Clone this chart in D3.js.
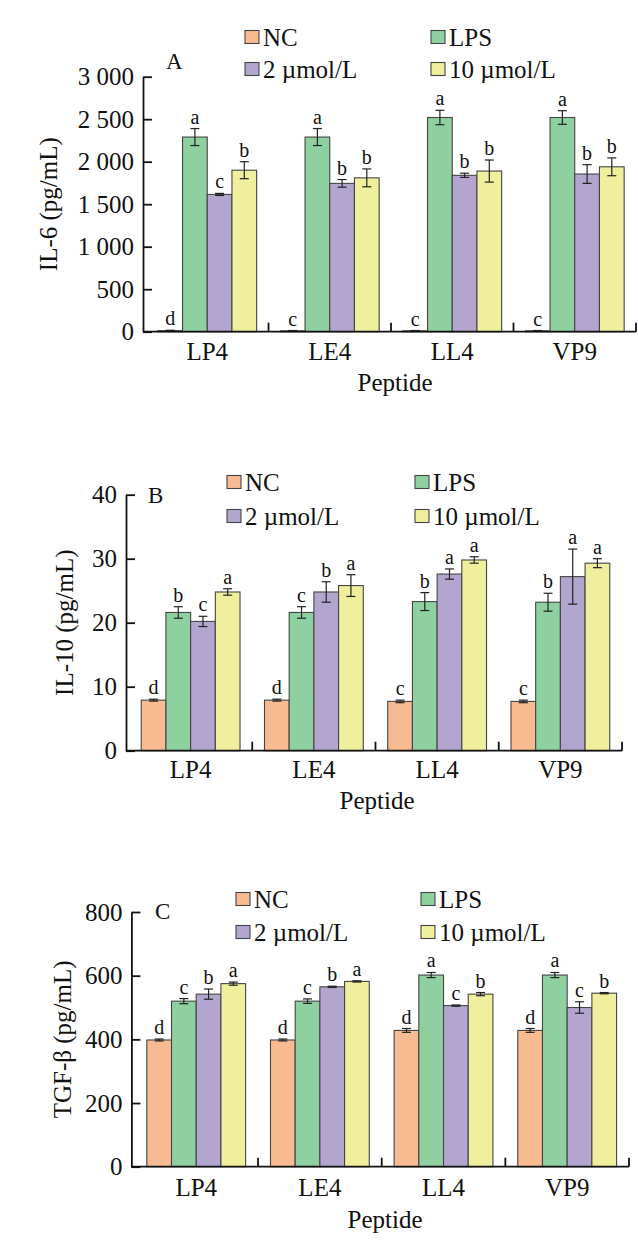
<!DOCTYPE html>
<html><head><meta charset="utf-8">
<script src="https://cdn.jsdelivr.net/npm/d3@7"></script>
<style>body{margin:0;background:#fff}</style>
</head><body>
<svg id="chart" width="638" height="1242" xmlns="http://www.w3.org/2000/svg"></svg>
<script>
// ---------- data ----------
const categories = ["LP4", "LE4", "LL4", "VP9"];
const seriesNames = ["NC", "LPS", "2 µmol/L", "10 µmol/L"];
const seriesColors = ["#F8BA91", "#8FD0A0", "#B2A6CF", "#EFEF9E"];

// Panel A: IL-6
const il6NC = [12, 10, 10, 10];
const il6LPS = [2290, 2290, 2520, 2520];
const il6Low = [1615, 1745, 1840, 1855];
const il6High = [1900, 1810, 1890, 1940];
const il6NCErr = [5, 4, 4, 4];
const il6LPSErr = [100, 100, 85, 80];
const il6LowErr = [12, 45, 25, 110];
const il6HighErr = [100, 105, 130, 105];
const il6NCSig = ["d", "c", "c", "c"];
const il6LPSSig = ["a", "a", "a", "a"];
const il6LowSig = ["c", "b", "b", "b"];
const il6HighSig = ["b", "b", "b", "b"];
const il6Ticks = [0, 500, 1000, 1500, 2000, 2500, 3000];
const il6TickLabels = ["0", "500", "1 000", "1 500", "2 000", "2 500", "3 000"];

// Panel B: IL-10
const il10NC = [7.9, 7.9, 7.7, 7.7];
const il10LPS = [21.6, 21.6, 23.3, 23.2];
const il10Low = [20.2, 24.8, 27.6, 27.2];
const il10High = [24.8, 25.8, 29.8, 29.3];
const il10NCErr = [0.15, 0.15, 0.2, 0.2];
const il10LPSErr = [0.9, 0.9, 1.4, 1.4];
const il10LowErr = [0.8, 1.6, 0.8, 4.3];
const il10HighErr = [0.5, 1.7, 0.5, 0.7];
const il10NCSig = ["d", "d", "c", "c"];
const il10LPSSig = ["b", "c", "b", "b"];
const il10LowSig = ["c", "b", "a", "a"];
const il10HighSig = ["a", "a", "a", "a"];
const il10Ticks = [0, 10, 20, 30, 40];
const il10TickLabels = ["0", "10", "20", "30", "40"];

// Panel C: TGF-β
const tgfNC = [398, 398, 428, 428];
const tgfLPS = [520, 520, 602, 602];
const tgfLow = [542, 565, 506, 500];
const tgfHigh = [575, 582, 542, 545];
const tgfNCErr = [3, 3, 6, 6];
const tgfLPSErr = [8, 7, 8, 8];
const tgfLowErr = [16, 2, 2, 18];
const tgfHighErr = [5, 2, 5, 2];
const tgfNCSig = ["d", "d", "d", "d"];
const tgfLPSSig = ["c", "c", "a", "a"];
const tgfLowSig = ["b", "b", "c", "c"];
const tgfHighSig = ["a", "a", "b", "b"];
const tgfTicks = [0, 200, 400, 600, 800];
const tgfTickLabels = ["0", "200", "400", "600", "800"];

// ---------- panels (layout) ----------
const panels = [
  {label: "A", yTitle: "IL-6 (pg/mL)", max: 3000, ticks: il6Ticks, tickLabels: il6TickLabels,
   values: [il6NC, il6LPS, il6Low, il6High], errs: [il6NCErr, il6LPSErr, il6LowErr, il6HighErr],
   sig: [il6NCSig, il6LPSSig, il6LowSig, il6HighSig],
   axisX: 143, axisRight: 636, yTop: 76.7, y0: 331.7,
   legRows: [37, 69], legCols: [245, 431], labelX: 166, labelY: 61, yTitleX: 57,
   catY: 360, xTitleY: 391, xTitleX: 395},
  {label: "B", yTitle: "IL-10 (pg/mL)", max: 40, ticks: il10Ticks, tickLabels: il10TickLabels,
   values: [il10NC, il10LPS, il10Low, il10High], errs: [il10NCErr, il10LPSErr, il10LowErr, il10HighErr],
   sig: [il10NCSig, il10LPSSig, il10LowSig, il10HighSig],
   axisX: 126, axisRight: 622, yTop: 494.7, y0: 750.7,
   legRows: [482, 516], legCols: [227, 415], labelX: 148, labelY: 495, yTitleX: 73,
   catY: 778, xTitleY: 809, xTitleX: 377},
  {label: "C", yTitle: "TGF-β (pg/mL)", max: 800, ticks: tgfTicks, tickLabels: tgfTickLabels,
   values: [tgfNC, tgfLPS, tgfLow, tgfHigh], errs: [tgfNCErr, tgfLPSErr, tgfLowErr, tgfHighErr],
   sig: [tgfNCSig, tgfLPSSig, tgfLowSig, tgfHighSig],
   axisX: 131.4, axisRight: 629, yTop: 912, y0: 1166.7,
   legRows: [899, 932], legCols: [236, 421], labelX: 155, labelY: 911, yTitleX: 71,
   catY: 1196, xTitleY: 1228, xTitleX: 385}
];

const FONT = "'Liberation Serif','Times New Roman',Times,serif";
const svg = d3.select("#chart");
svg.append("rect").attr("width", 638).attr("height", 1242).attr("fill", "#fff");

const barW = 24.7;

panels.forEach(p => {
  const g = svg.append("g");
  const x = d3.scaleBand().domain(categories).range([p.axisX + 3, p.axisRight]).padding(0);
  const groupW = barW * seriesNames.length;
  const inner = d3.scaleBand().domain(seriesNames).range([0, groupW]).padding(0);
  const y = d3.scaleLinear().domain([0, p.max]).range([p.y0, p.yTop]);

  // bars
  seriesNames.forEach((s, si) => {
    categories.forEach((c, ci) => {
      const v = p.values[si][ci];
      const e = p.errs[si][ci];
      const gx = x(c) + (x.bandwidth() - groupW) / 2 + inner(s);
      g.append("rect")
        .attr("x", gx).attr("y", y(v))
        .attr("width", inner.bandwidth()).attr("height", Math.max(0.8, y(0) - y(v)))
        .attr("fill", seriesColors[si]).attr("stroke", "#444").attr("stroke-width", 1.1);
      const cx = gx + inner.bandwidth() / 2;
      const yt = y(v + e), yb = y(Math.max(0, v - e));
      const cap = 4.5;
      g.append("line").attr("x1", cx).attr("x2", cx).attr("y1", yt).attr("y2", yb)
        .attr("stroke", "#222").attr("stroke-width", 1.2);
      g.append("line").attr("x1", cx - cap).attr("x2", cx + cap).attr("y1", yt).attr("y2", yt)
        .attr("stroke", "#222").attr("stroke-width", 1.2);
      g.append("line").attr("x1", cx - cap).attr("x2", cx + cap).attr("y1", yb).attr("y2", yb)
        .attr("stroke", "#222").attr("stroke-width", 1.2);
      g.append("text").attr("x", cx).attr("y", yt - 5)
        .attr("text-anchor", "middle").attr("font-family", FONT).attr("font-size", 20)
        .attr("fill", "#111").text(p.sig[si][ci]);
    });
  });

  // y axis
  const yAxis = d3.axisLeft(y).tickValues(p.ticks)
    .tickFormat((d, i) => p.tickLabels[i]).tickSizeInner(-9).tickSizeOuter(0).tickPadding(9);
  const ya = g.append("g").attr("transform", `translate(${p.axisX},0)`).call(yAxis);
  ya.select(".domain").attr("stroke", "#111").attr("stroke-width", 1.8);
  ya.selectAll(".tick line").attr("stroke", "#111").attr("stroke-width", 1.8);
  ya.selectAll(".tick text").attr("font-family", FONT).attr("font-size", 25).attr("fill", "#111");

  // x axis
  const xAxis = d3.axisBottom(x).tickSize(0).tickPadding(0);
  const xa = g.append("g").attr("transform", `translate(0,${p.y0})`).call(xAxis);
  xa.select(".domain").remove();
  xa.selectAll(".tick text").attr("font-family", FONT).attr("font-size", 25).attr("fill", "#111")
    .attr("dy", null).attr("y", p.catY - p.y0);
  g.append("line").attr("x1", p.axisX).attr("x2", p.axisRight).attr("y1", p.y0).attr("y2", p.y0)
    .attr("stroke", "#111").attr("stroke-width", 1.8);
  const tickXs = categories.slice(1).map(c => x(c)).concat([p.axisRight]);
  tickXs.forEach(tx => {
    g.append("line").attr("x1", tx).attr("x2", tx).attr("y1", p.y0).attr("y2", p.y0 - 9)
      .attr("stroke", "#111").attr("stroke-width", 1.8);
  });

  // titles
  g.append("text").attr("x", p.xTitleX).attr("y", p.xTitleY).attr("text-anchor", "middle")
    .attr("font-family", FONT).attr("font-size", 25).attr("fill", "#111").text("Peptide");
  g.append("text").attr("transform", `translate(${p.yTitleX},${(p.y0 + p.yTop) / 2}) rotate(-90)`)
    .attr("text-anchor", "middle").attr("font-family", FONT).attr("font-size", 25).attr("fill", "#111")
    .text(p.yTitle);
  g.append("text").attr("x", p.labelX).attr("y", p.labelY + 8)
    .attr("font-family", FONT).attr("font-size", 23).attr("fill", "#111").text(p.label);

  // legend
  seriesNames.forEach((s, si) => {
    const lx = p.legCols[si % 2], ly = p.legRows[Math.floor(si / 2)];
    g.append("rect").attr("x", lx).attr("y", ly - 6.5).attr("width", 14).attr("height", 13)
      .attr("fill", seriesColors[si]).attr("stroke", "#444").attr("stroke-width", 1.1);
    g.append("text").attr("x", lx + 18).attr("y", ly + 8.5)
      .attr("font-family", FONT).attr("font-size", 25).attr("fill", "#111").text(s);
  });
});
</script>
</body></html>
